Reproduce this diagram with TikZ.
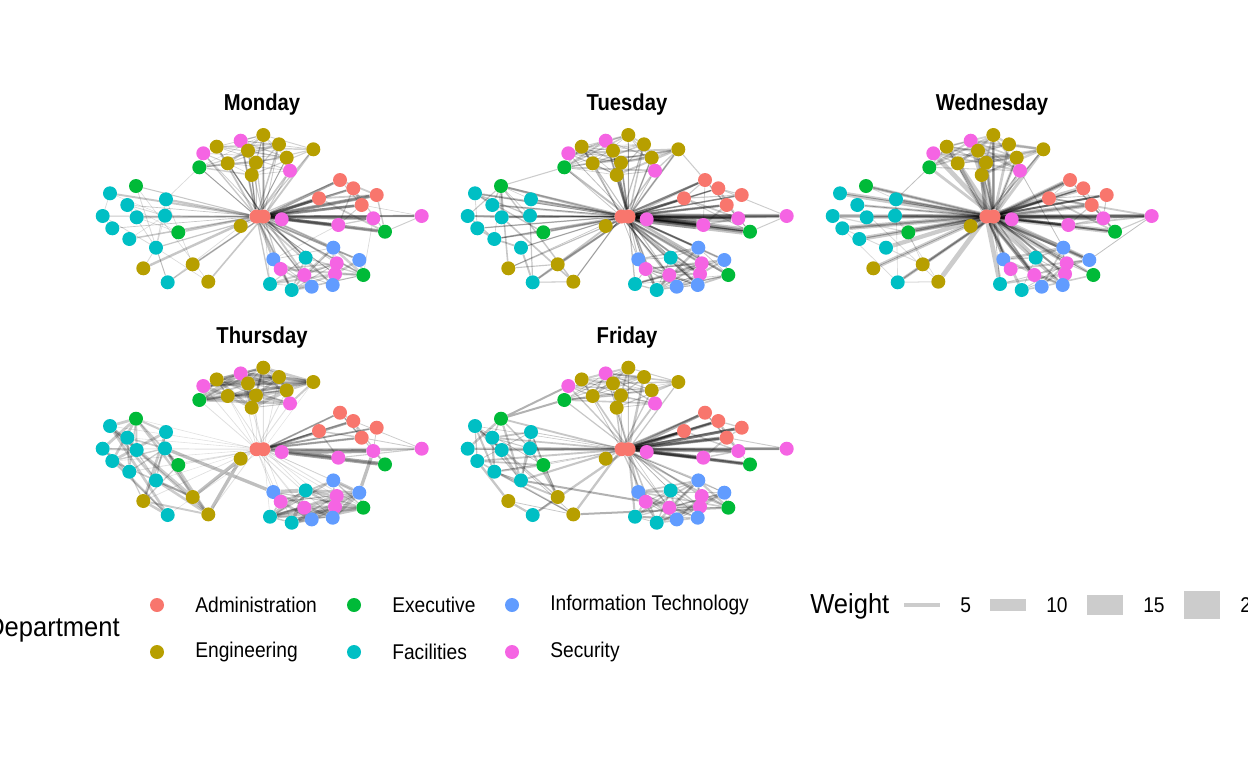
\documentclass[tikz,border=0pt]{standalone}
\usepackage{fontspec}
\setmainfont{Liberation Sans}
\newfontfamily\nsans[FakeStretch=0.88]{Liberation Sans}
\newfontfamily\lsans[FakeStretch=0.9]{Liberation Sans}
\newfontfamily\wsans[FakeStretch=0.93]{Liberation Sans}
\definecolor{cA}{HTML}{F8766D}
\definecolor{cE}{HTML}{B79F00}
\definecolor{cX}{HTML}{00BA38}
\definecolor{cF}{HTML}{00BFC4}
\definecolor{cI}{HTML}{619CFF}
\definecolor{cS}{HTML}{F564E3}
\definecolor{keygray}{HTML}{CCCCCC}
\pgfdeclarelayer{background}
\pgfsetlayers{background,main}
\tikzset{
  dot/.style={circle, inner sep=0pt, minimum size=10.5pt, draw=none},
  edge/.style={draw=black, line cap=butt},
  paneltitle/.style={font=\nsans\bfseries\fontsize{17.25}{20}\selectfont},
  legtext/.style={font=\lsans\fontsize{16}{19}\selectfont, anchor=west, inner sep=0pt},
  legtitle/.style={font=\wsans\fontsize{20.6}{24}\selectfont, inner sep=0pt},
  wkey/.style={fill=keygray, draw=none, inner sep=0pt, minimum width=26.5pt},
}
\def\nodelist{1/cA/256.5/216.5, 2/cA/263.5/216.5, 3/cS/281.7/219.3, 4/cE/240.7/226,
5/cS/203.3/153.3, 6/cE/216.7/146.7, 7/cS/240.7/140.7, 8/cE/263.3/135, 9/cE/279/144.3,
10/cE/313.3/149.3, 11/cE/248/150.7, 12/cE/286.7/157.7, 13/cE/227.7/163.3, 14/cE/256/162.7,
15/cS/290/170.7, 16/cX/199.3/167.3, 17/cE/251.7/175,
18/cA/340/180, 19/cA/353.3/188.3, 20/cA/376.7/195, 21/cA/319/198.3, 22/cA/361.7/205,
23/cS/373.3/218.3, 24/cS/421.7/216, 25/cS/338.3/225, 26/cX/385/231.7,
27/cX/136/186, 28/cF/110/193.3, 29/cF/166/199.3, 30/cF/127.3/205, 31/cF/102.7/216,
32/cF/136.7/217.3, 33/cF/165/215.7, 34/cF/112.3/228.3, 35/cX/178.3/232.3, 36/cF/129.3/239,
37/cF/156/247.7, 38/cE/143.3/268.3, 39/cE/192.7/264.3, 40/cF/167.7/282.3, 41/cE/208.3/281.7,
42/cI/333.3/247.7, 43/cI/273.3/259.3, 44/cF/305.7/257.7, 45/cI/359.3/260, 46/cS/336.7/263.3,
47/cS/280.7/269, 48/cS/304.3/275, 49/cS/335/274, 50/cX/363.3/275, 51/cF/270/284,
52/cF/291.7/290, 53/cI/311.7/286.7, 54/cI/332.7/285}
% #1 prefix, #2 dx, #3 dy, #4 title
\newcommand\netnodes[4]{%
  \begin{scope}[shift={(#2,#3)}]
    \node[paneltitle] (#1-title) at (262,105) {#4};
    \foreach \n/\c/\x/\y in \nodelist {\node[dot, fill=\c] (#1-\n) at (\x,\y) {};}
  \end{scope}}
% prefix, from, to, prob, minw, maxw, opacity
\newcommand\hubedges[7]{%
  \foreach \j in {#2,...,#3}{%
    \pgfmathsetmacro\r{rnd}%
    \ifdim\r pt<#4pt
      \pgfmathsetmacro\w{(#5+(#6-#5)*rnd)*0.75}%
      \pgfmathtruncatemacro\h{rnd<0.5 ? 1 : 2}%
      \draw[edge, line width=\w pt, draw opacity=#7] (#1-\h) -- (#1-\j);
    \fi}}
\newcommand\clusteredges[7]{%
  \pgfmathtruncatemacro\cto{#3-1}%
  \foreach \i in {#2,...,\cto}{%
    \pgfmathtruncatemacro\ni{\i+1}%
    \foreach \j in {\ni,...,#3}{%
      \pgfmathsetmacro\r{rnd}%
      \ifdim\r pt<#4pt
        \pgfmathsetmacro\w{(#5+(#6-#5)*rnd)*0.75}%
        \draw[edge, line width=\w pt, draw opacity=#7] (#1-\i) -- (#1-\j);
      \fi}}}
\begin{document}
\begin{tikzpicture}[x=0.75pt, y=-0.75pt]
\useasboundingbox (0,0) rectangle (1248,768);
\netnodes{Mo}{0}{0}{Monday}
\netnodes{Tu}{365}{0}{Tuesday}
\netnodes{We}{730}{0}{Wednesday}
\netnodes{Th}{0}{232.7}{Thursday}
\netnodes{Fr}{365}{232.7}{Friday}
\begin{pgfonlayer}{background}
% Monday
\pgfmathsetseed{11}
\hubedges{Mo}{3}{54}{0.95}{0.6}{2.5}{0.22}
\hubedges{Mo}{5}{17}{0.8}{0.5}{1.5}{0.2}
\hubedges{Mo}{18}{26}{1}{2}{4}{0.35}
\hubedges{Mo}{42}{54}{0.9}{0.5}{2}{0.2}
\clusteredges{Mo}{5}{17}{0.45}{0.4}{1.5}{0.18}
\clusteredges{Mo}{18}{26}{0.4}{0.5}{2}{0.2}
\clusteredges{Mo}{27}{41}{0.12}{0.4}{1}{0.15}
\clusteredges{Mo}{42}{54}{0.45}{0.5}{2.5}{0.18}
\draw[edge, line width=0.5pt, draw opacity=0.15] (Mo-16) -- (Mo-29) (Mo-25) -- (Mo-43) (Mo-23) -- (Mo-50) (Mo-4) -- (Mo-40);
% Tuesday
\pgfmathsetseed{22}
\hubedges{Tu}{3}{54}{1}{0.5}{2.5}{0.25}
\hubedges{Tu}{3}{54}{0.8}{0.5}{2}{0.22}
\hubedges{Tu}{18}{26}{1}{1}{3}{0.3}
\hubedges{Tu}{23}{26}{1}{4}{11}{0.22}
\hubedges{Tu}{25}{26}{1}{3}{8}{0.25}
\clusteredges{Tu}{5}{17}{0.55}{0.5}{2}{0.2}
\clusteredges{Tu}{18}{26}{0.4}{0.5}{2}{0.2}
\clusteredges{Tu}{27}{41}{0.25}{0.5}{2}{0.22}
\clusteredges{Tu}{42}{54}{0.55}{0.5}{2.5}{0.22}
\draw[edge, line width=0.8pt, draw opacity=0.2] (Tu-10) -- (Tu-18) (Tu-16) -- (Tu-27) (Tu-3) -- (Tu-24);
% Wednesday
\pgfmathsetseed{33}
\hubedges{We}{3}{54}{1}{2}{5}{0.2}
\hubedges{We}{3}{54}{0.8}{0.5}{2}{0.3}
\hubedges{We}{18}{26}{1}{1}{3}{0.3}
\clusteredges{We}{5}{17}{0.45}{0.5}{2.5}{0.18}
\clusteredges{We}{18}{26}{0.35}{0.5}{2}{0.2}
\clusteredges{We}{27}{41}{0.1}{0.5}{1.5}{0.15}
\clusteredges{We}{42}{54}{0.5}{0.5}{2.5}{0.2}
\draw[edge, line width=0.6pt, draw opacity=0.25] (We-15) -- (We-42) (We-16) -- (We-29) (We-24) -- (We-45);
% Thursday
\pgfmathsetseed{44}
\hubedges{Th}{4}{54}{0.9}{0.4}{1}{0.12}
\hubedges{Th}{18}{22}{1}{1}{3}{0.35}
\hubedges{Th}{23}{26}{1}{1}{2.5}{0.2}
\clusteredges{Th}{5}{17}{0.7}{0.8}{4}{0.2}
\clusteredges{Th}{18}{26}{0.3}{0.5}{2}{0.2}
\clusteredges{Th}{27}{41}{0.22}{1}{3}{0.2}
\clusteredges{Th}{42}{54}{0.55}{1}{4}{0.22}
\draw[edge, line width=3pt, draw opacity=0.35] (Th-3) -- (Th-25) (Th-3) -- (Th-23) (Th-3) -- (Th-26);
\draw[edge, line width=2.5pt, draw opacity=0.25] (Th-4) -- (Th-39) (Th-4) -- (Th-41) (Th-33) -- (Th-43) (Th-23) -- (Th-45);
% Friday
\pgfmathsetseed{55}
\hubedges{Fr}{3}{54}{0.95}{0.5}{2.5}{0.22}
\hubedges{Fr}{18}{26}{1}{2}{4}{0.3}
\hubedges{Fr}{18}{22}{1}{1}{3}{0.3}
\clusteredges{Fr}{5}{17}{0.55}{0.5}{2}{0.2}
\clusteredges{Fr}{18}{26}{0.35}{0.5}{2}{0.2}
\clusteredges{Fr}{27}{41}{0.35}{0.6}{2.5}{0.22}
\clusteredges{Fr}{42}{54}{0.5}{0.5}{2.5}{0.2}
\draw[edge, line width=1.5pt, draw opacity=0.3] (Fr-16) -- (Fr-27) (Fr-27) -- (Fr-5) (Fr-37) -- (Fr-47) (Fr-41) -- (Fr-50) (Fr-3) -- (Fr-26);
\end{pgfonlayer}
% Legend: Department
\node[legtitle, anchor=east] (deptitle) at (120,630) {Department};
\foreach \n/\c/\x/\y/\t in {a/cA/157/605/Administration, b/cE/157/652/Engineering,
  c/cX/354/605/Executive, d/cF/354/652/Facilities,
  e/cI/512/605/Information Technology, f/cS/512/652/Security}{
  \node[dot, fill=\c] (leg-\n) at (\x,\y) {};
  \node[legtext] (legt-\n) at (\x+38,\y) {\t};
}
% Legend: Weight
\node[legtitle, anchor=west] (wtitle) at (810,606) {Weight};
\foreach \k/\x/\h/\lab in {1/922/3.5/5, 2/1008/8.5/10, 3/1105/15.5/15, 4/1202/20.5/20}{
  \node[wkey, minimum height=\h pt] (wkey-\k) at (\x,605) {};
  \node[legtext] (wlab-\k) at (\x+38,605) {\lab};
}
\end{tikzpicture}
\end{document}
